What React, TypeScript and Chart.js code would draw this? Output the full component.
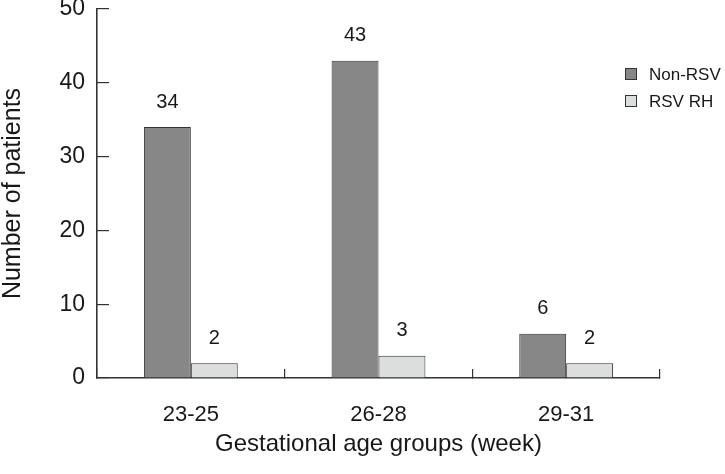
import React, { useEffect, useRef } from "react";
import { Chart, registerables } from "chart.js";

Chart.register(...registerables);

const categories = ["23-25", "26-28", "29-31"];
const nonRsv = [34, 43, 6];
const rsvRh = [2, 3, 2];
const seriesNames = ["Non-RSV", "RSV RH"];
const yTicks = [0, 10, 20, 30, 40, 50];

const FONT = "'Liberation Sans', Arial, sans-serif";
const TEXT = "#1a1718";
const LINE = "#333333";
const DARK = "#878787";
const LIGHT = "#dcdedd";

const valueLabels = {
  id: "valueLabels",
  afterDatasetsDraw(chart: any) {
    const ctx = chart.ctx;
    ctx.save();
    ctx.font = `20px ${FONT}`;
    ctx.fillStyle = TEXT;
    ctx.textAlign = "center";
    ctx.textBaseline = "middle";
    chart.data.datasets.forEach((ds: any, i: number) => {
      const meta = chart.getDatasetMeta(i);
      meta.data.forEach((el: any, j: number) => {
        ctx.fillText(String(ds.data[j]), el.x, el.y - 25);
      });
    });
    ctx.restore();
  },
};

const customLegend = {
  id: "customLegend",
  afterDraw(chart: any) {
    const ctx = chart.ctx;
    ctx.save();
    const x0 = chart.width - 100;
    const ys = [74, 101];
    chart.data.datasets.forEach((ds: any, i: number) => {
      const y = ys[i];
      ctx.fillStyle = ds.backgroundColor;
      ctx.fillRect(x0, y - 6, 12, 12);
      ctx.strokeStyle = LINE;
      ctx.lineWidth = 1;
      ctx.strokeRect(x0 + 0.5, y - 5.5, 11, 11);
      ctx.fillStyle = TEXT;
      ctx.font = `17px ${FONT}`;
      ctx.textAlign = "left";
      ctx.textBaseline = "middle";
      ctx.fillText(ds.label, x0 + 24, y + 1);
    });
    ctx.restore();
  },
};

export default function App() {
  const ref = useRef<HTMLCanvasElement>(null);
  useEffect(() => {
    document.body.style.margin = "0";
    const chart = new Chart(ref.current as HTMLCanvasElement, {
      type: "bar",
      data: {
        labels: categories,
        datasets: [
          {
            label: seriesNames[0],
            data: nonRsv,
            backgroundColor: DARK,
            borderColor: LINE,
            borderWidth: 1,
            categoryPercentage: 0.5,
            barPercentage: 1,
          },
          {
            label: seriesNames[1],
            data: rsvRh,
            backgroundColor: LIGHT,
            borderColor: LINE,
            borderWidth: 1,
            categoryPercentage: 0.5,
            barPercentage: 1,
          },
        ],
      },
      options: {
        responsive: false,
        animation: false,
        layout: { padding: { top: 9, right: 65, left: 0, bottom: 0 } },
        plugins: {
          legend: { display: false },
          tooltip: { enabled: false },
        },
        scales: {
          x: {
            offset: true,
            grid: {
              offset: true,
              drawOnChartArea: false,
              drawTicks: true,
              tickLength: -9,
              color: LINE,
              lineWidth: 1.2,
            },
            border: { display: true, color: LINE, width: 1.6 },
            ticks: { font: { family: FONT, size: 22 }, color: TEXT, padding: 33 },
            title: {
              display: true,
              text: "Gestational age groups (week)",
              font: { family: FONT, size: 24 },
              color: TEXT,
              padding: { top: 0, bottom: 15 },
            },
            afterFit(scale: any) {
              scale.height = 96;
              scale.paddingLeft = 0;
              scale.paddingRight = 0;
            },
          },
          y: {
            min: 0,
            max: 50,
            afterBuildTicks(scale: any) {
              scale.ticks = yTicks.map((v) => ({ value: v }));
            },
            grid: {
              drawOnChartArea: false,
              drawTicks: true,
              tickLength: -12,
              color: LINE,
              lineWidth: 1.2,
            },
            border: { display: true, color: LINE, width: 1.6 },
            ticks: { font: { family: FONT, size: 23 }, color: TEXT, padding: 24 },
            title: {
              display: true,
              text: "Number of patients",
              font: { family: FONT, size: 25 },
              color: TEXT,
              padding: { top: -2, bottom: 0 },
            },
            afterFit(scale: any) {
              scale.width = 97;
              scale.paddingTop = 0;
              scale.paddingBottom = 0;
            },
          },
        },
      },
      plugins: [valueLabels, customLegend],
    });
    return () => chart.destroy();
  }, []);
  return (
    <div style={{ position: "absolute", left: 0, top: 0, width: 725, height: 474 }}>
      <canvas ref={ref} width={725} height={474} style={{ display: "block" }} />
    </div>
  );
}
